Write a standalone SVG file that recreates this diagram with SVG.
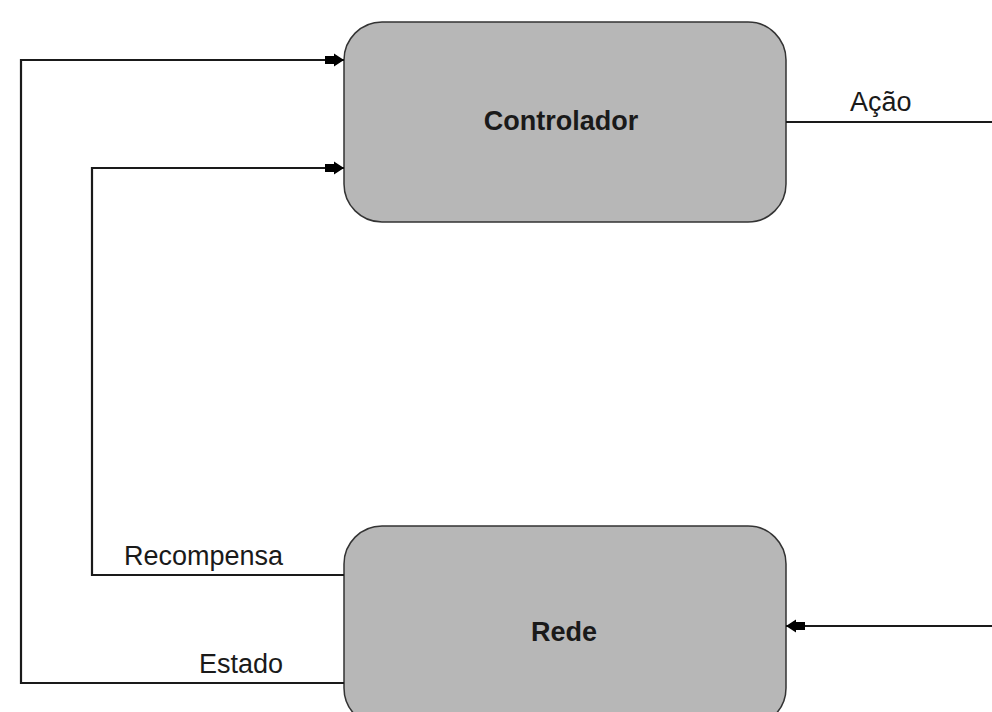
<svg xmlns="http://www.w3.org/2000/svg" width="992" height="712" viewBox="0 0 992 712">
<style>
.box{fill:#b7b7b7;stroke:#333;stroke-width:1.5}
.lbl{font-family:"Liberation Sans",Arial,sans-serif;font-size:27px;fill:#1a1a1a}
.bold{font-weight:bold;text-anchor:middle}
.ln{fill:none;stroke:#1a1a1a;stroke-width:2.2}
</style>
<defs>
<marker id="ah" viewBox="0 0 19 14" refX="19" refY="7" markerWidth="19" markerHeight="14" markerUnits="userSpaceOnUse" orient="auto">
<path d="M0,3 H9 V0.5 L19,7 L9,13.5 V11 H0 Z" fill="#000"/>
</marker>
</defs>
<rect width="992" height="712" fill="#fff"/>
<g id="controlador">
<rect class="box" x="344" y="22" width="442" height="200" rx="38"/>
<text class="lbl bold" x="561" y="130">Controlador</text>
</g>
<g id="rede">
<rect class="box" x="344" y="526" width="442" height="200" rx="38"/>
<text class="lbl bold" x="564" y="641">Rede</text>
</g>
<g id="connectors">
<polyline class="ln" points="344,683 21,683 21,60 344,60" marker-end="url(#ah)"/>
<polyline class="ln" points="344,575 92,575 92,168 344,168" marker-end="url(#ah)"/>
<line class="ln" x1="786" y1="122" x2="992" y2="122"/>
<line class="ln" x1="992" y1="626" x2="786" y2="626" marker-end="url(#ah)"/>
<text class="lbl" x="850" y="111">Ação</text>
<text class="lbl" x="283" y="565" text-anchor="end">Recompensa</text>
<text class="lbl" x="283" y="673" text-anchor="end">Estado</text>
</g>
</svg>
